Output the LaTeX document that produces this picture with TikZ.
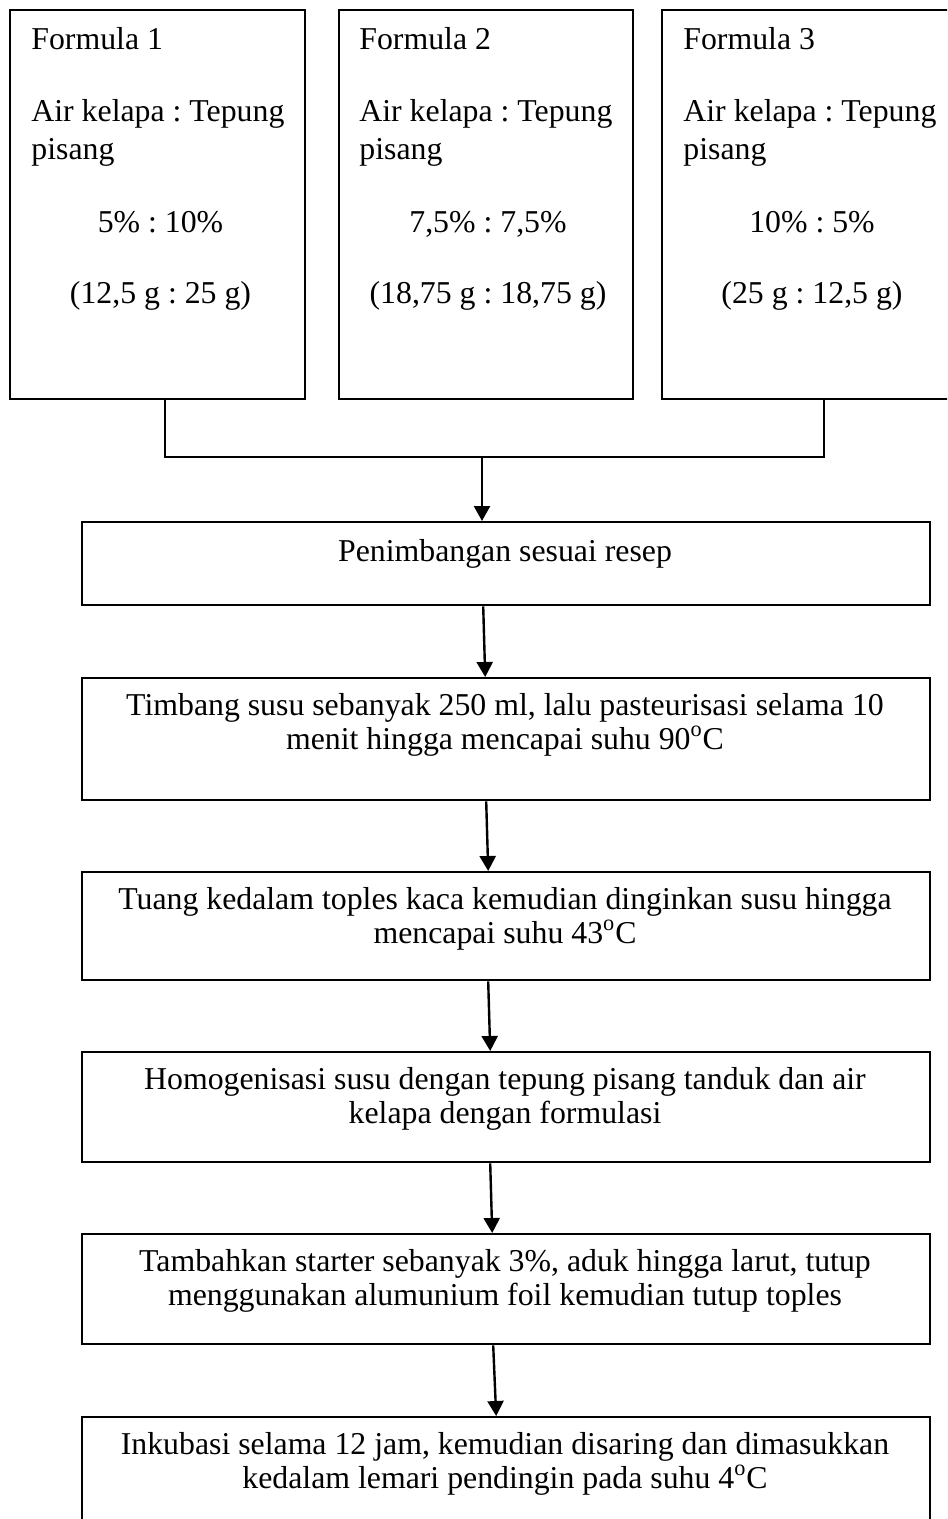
\documentclass[tikz,border=0pt]{standalone}
\usepackage{fontspec}
\setmainfont{Liberation Serif}
\usetikzlibrary{arrows.meta,calc}
\begin{document}
\frenchspacing
\begin{tikzpicture}[x=0.5pt,y=-0.5pt,
  box/.style={draw,line width=1.2pt,inner sep=0pt,anchor=north west},
  txt/.style={inner sep=0pt,font=\fontsize{15.9pt}{18pt}\selectfont\frenchspacing},
  ln/.style={line width=1.2pt},
  arr/.style={line width=1.2pt,-{Triangle[length=7.5pt,width=8pt]}}]
\useasboundingbox (0,0) rectangle (947,1519);
\clip (0,0) rectangle (947,1519);
\fill[white] (0,0) rectangle (947,1519);
% top boxes
\node[box,minimum width=147.5pt,minimum height=194.5pt] (f1) at (9,9) {};
\node[box,minimum width=147pt,minimum height=194.5pt] (f2) at (338,9) {};
\node[box,minimum width=147.5pt,minimum height=194.5pt] (f3) at (661,9) {};
\node[txt,anchor=base west] (f1t) at (31,50) {Formula 1};
\node[txt,anchor=base west] (f1a) at (31,122) {Air kelapa : Tepung};
\node[txt,anchor=base west] (f1b) at (31,160) {pisang};
\node[txt,anchor=base] (f1c) at (160.5,233) {5\% : 10\%};
\node[txt,anchor=base] (f1d) at (160.5,304) {(12,5 g : 25 g)};
\node[txt,anchor=base west] (f2t) at (359,50) {Formula 2};
\node[txt,anchor=base west] (f2a) at (359,122) {Air kelapa : Tepung};
\node[txt,anchor=base west] (f2b) at (359,160) {pisang};
\node[txt,anchor=base] (f2c) at (488,233) {7,5\% : 7,5\%};
\node[txt,anchor=base] (f2d) at (488,304) {(18,75 g : 18,75 g)};
\node[txt,anchor=base west] (f3t) at (683,50) {Formula 3};
\node[txt,anchor=base west] (f3a) at (683,122) {Air kelapa : Tepung};
\node[txt,anchor=base west] (f3b) at (683,160) {pisang};
\node[txt,anchor=base] (f3c) at (812,233) {10\% : 5\%};
\node[txt,anchor=base] (f3d) at (812,304) {(25 g : 12,5 g)};
% lower boxes
\node[box,minimum width=424pt,minimum height=41.5pt] (pen) at (81,521) {};
\node[box,minimum width=424pt,minimum height=61pt] (tim) at (81,677) {};
\node[box,minimum width=424pt,minimum height=54pt] (tua) at (81,871) {};
\node[box,minimum width=424pt,minimum height=55pt] (hom) at (81,1051) {};
\node[box,minimum width=424pt,minimum height=55pt] (tam) at (81,1233) {};
\node[box,minimum width=424pt,minimum height=70pt] (ink) at (81,1416) {};
\node[txt,anchor=base] (pent) at (505,561) {Penimbangan sesuai resep};
\node[txt,anchor=base] (tim1) at (505,715) {Timbang susu sebanyak 250 ml, lalu pasteurisasi selama 10};
\node[txt,anchor=base] (tim2) at (505,749) {menit hingga mencapai suhu 90\textsuperscript{o}C};
\node[txt,anchor=base] (tua1) at (505,909) {Tuang kedalam toples kaca kemudian dinginkan susu hingga};
\node[txt,anchor=base] (tua2) at (505,943) {mencapai suhu 43\textsuperscript{o}C};
\node[txt,anchor=base] (hom1) at (505,1089) {Homogenisasi susu dengan tepung pisang tanduk dan air};
\node[txt,anchor=base] (hom2) at (505,1123) {kelapa dengan formulasi};
\node[txt,anchor=base] (tam1) at (505,1271) {Tambahkan starter sebanyak 3\%, aduk hingga larut, tutup};
\node[txt,anchor=base] (tam2) at (505,1305) {menggunakan alumunium foil kemudian tutup toples};
\node[txt,anchor=base] (ink1) at (505,1454) {Inkubasi selama 12 jam, kemudian disaring dan dimasukkan};
\node[txt,anchor=base] (ink2) at (505,1488) {kedalam lemari pendingin pada suhu 4\textsuperscript{o}C};
% connectors
\coordinate (a1) at ($(f1.south)+(7.5,0)$);
\coordinate (a3) at ($(f3.south)+(14.5,0)$);
\coordinate (jn) at (482,457);
\draw[ln] (a1) |- (jn) -| (a3);
\draw[arr] (jn) -- (jn |- pen.north);
\draw[arr] ($(pen.south)+(-23,0)$) -- ($(tim.north)+(-21,0)$);
\draw[arr] ($(tim.south)+(-20,0)$) -- ($(tua.north)+(-18,0)$);
\draw[arr] ($(tua.south)+(-18,0)$) -- ($(hom.north)+(-16,0)$);
\draw[arr] ($(hom.south)+(-16,0)$) -- ($(tam.north)+(-14,0)$);
\draw[arr] ($(tam.south)+(-13,0)$) -- ($(ink.north)+(-10,0)$);
\end{tikzpicture}
\end{document}
